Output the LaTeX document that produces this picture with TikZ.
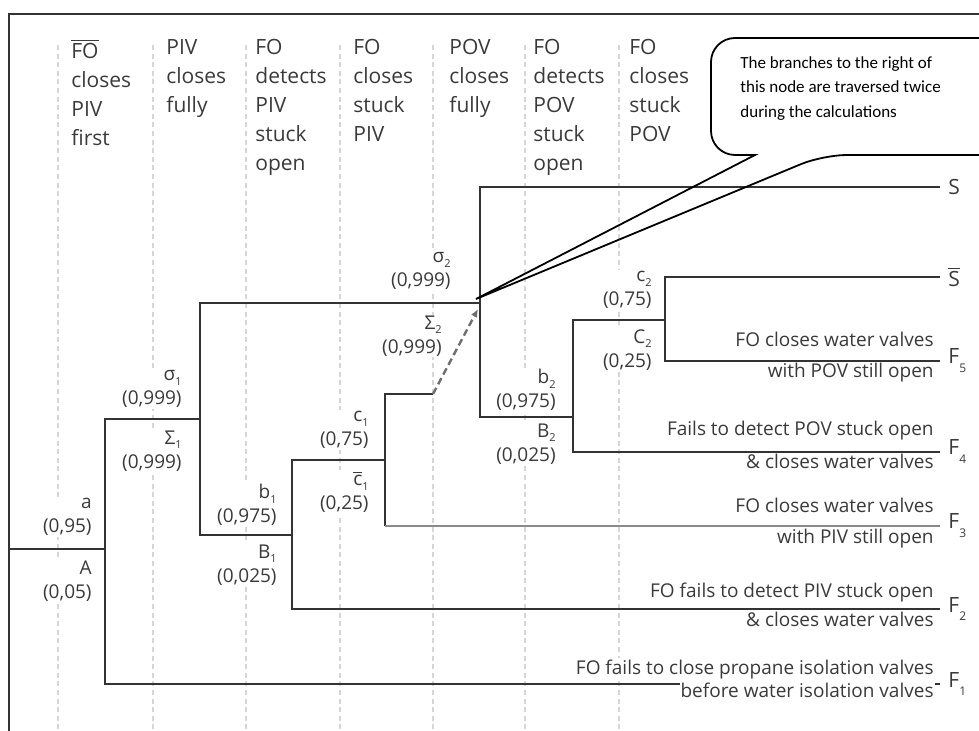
\documentclass[tikz,border=0pt]{standalone}
\usepackage{fontspec}
\setmainfont{Open Sans}
\newfontfamily\notefont{Carlito}
\usetikzlibrary{positioning}
\usetikzlibrary{arrows.meta}
\definecolor{et-line}{HTML}{333333}
\definecolor{et-grid}{HTML}{D6D6D6}
\definecolor{et-text}{HTML}{3A3A3A}
\definecolor{et-faint}{HTML}{8A8A8A}
\newcommand{\lsub}[1]{\raisebox{-0.45ex}{\fontsize{5.5}{6}\selectfont #1}}
\newcommand{\fsub}[1]{\raisebox{-0.8ex}{\fontsize{6}{6}\selectfont #1}}
\newcommand{\bartext}[1]{$\overline{\hbox{#1}}$}

\begin{document}
\begin{tikzpicture}[
    x=0.5pt, y=-0.5pt, % one unit = one pixel of the figure
    font=\fontsize{9.5}{12}\selectfont,
    text=et-text,
    >=Latex
  ]

  % Styles for the event tree
  \tikzset{
    branch/.style={draw=et-line, line width=1.1pt},
    faint/.style={draw=et-faint, line width=0.8pt},
    column/.style={draw=et-grid, line width=0.6pt, dash pattern=on 2.5pt off 1.8pt},
    head/.style={anchor=north west, inner sep=0pt, align=left, font=\fontsize{10.5}{14.5}\selectfont},
    prob/.style={fill=white, inner sep=0.5pt, align=right, anchor=east},
    probup/.style={prob, yshift=15pt},
    probdown/.style={prob, yshift=-15pt},
    outtop/.style={fill=white, inner sep=0.5pt, anchor=base east, xshift=-2.5pt, yshift=7pt},
    outbot/.style={fill=white, inner sep=0.5pt, anchor=base east, xshift=-2.5pt, yshift=-8.5pt},
    endlabel/.style={inner sep=0pt, font=\fontsize{10.5}{12}\selectfont},
    bubble/.style={draw=black, line width=0.9pt},
    dasharrow/.style={draw=et-faint!80!black, line width=1.2pt, dash pattern=on 3.5pt off 2pt, -{Latex[length=4pt,width=3.5pt]}}
  }

  \clip (0,0) rectangle (979,731);

  % Frame and column rulings
  \draw[et-line, line width=1.1pt] (9,731) -- (9,14) -- (979,14);
  \foreach \gx in {58,153,246,340,433,525,619}
    \draw[column] (\gx,45) -- (\gx,731);

  % Column headings
  \node[head] (h1) at (71,39) {\bartext{FO}\\closes\\PIV\\first};
  \node[head] (h2) at (166,39) {PIV\\closes\\fully};
  \node[head] (h3) at (255,39) {FO\\detects\\PIV\\stuck\\open};
  \node[head] (h4) at (353,39) {FO\\closes\\stuck\\PIV};
  \node[head] (h5) at (449,39) {POV\\closes\\fully};
  \node[head] (h6) at (533,39) {FO\\detects\\POV\\stuck\\open};
  \node[head] (h7) at (629,39) {FO\\closes\\stuck\\POV};

  % Junctions and branch ends
  \coordinate (root) at (9,549);
  \coordinate (ja) at (105,549);
  \coordinate (jsig1) at (200,419);
  \coordinate (jb1) at (292,535);
  \coordinate (jc1) at (385,460);
  \coordinate (c1end) at (433,394);
  \coordinate (js2) at (480,303);
  \coordinate (s2tip) at (476,299);
  \coordinate (s2arrow) at (478,309);
  \coordinate (jb2) at (573,417);
  \coordinate (jc2) at (665,320);
  \coordinate (eS) at (940,187);
  \coordinate (eSbar) at (940,277);
  \coordinate (eF5) at (940,361);
  \coordinate (eF4) at (940,452);
  \coordinate (eF3) at (940,526);
  \coordinate (eF2) at (940,609);
  \coordinate (eF1) at (940,684);

  % Branches
  \draw[branch] (root) -- (ja);
  \draw[branch] (jsig1) -| (ja) |- (eF1);
  \draw[branch] (js2) -| (jsig1) |- (jb1);
  \draw[branch] (jc1) -| (jb1) |- (eF2);
  \draw[branch] (c1end) -| (jc1) -- (jc1 |- eF3);
  \draw[faint] (jc1 |- eF3) -- (eF3);
  \draw[branch] (eS) -| (js2) |- (jb2);
  \draw[branch] (jc2) -| (jb2) |- (eF4);
  \draw[branch] (eSbar) -| (jc2) |- (eF5);
  \draw[dasharrow] (c1end) -- (s2arrow);

  % Branch probabilities
  \node[probup, xshift=-6pt, yshift=1pt] (pa) at (ja) {a\\(0,95)};
  \node[probdown, xshift=-6pt, yshift=-1pt] (pA) at (ja) {A\\(0,05)};
  \node[probup, xshift=-8.5pt] (psig1) at (jsig1) {σ\lsub{1}\\(0,999)};
  \node[probdown, xshift=-8.5pt, yshift=-1pt] (pSig1) at (jsig1) {Σ\lsub{1}\\(0,999)};
  \node[probup, xshift=-7pt] (pb1) at (jb1) {b\lsub{1}\\(0,975)};
  \node[probdown, xshift=-7pt] (pB1) at (jb1) {B\lsub{1}\\(0,025)};
  \node[probup, xshift=-7.5pt] (pc1) at (jc1) {c\lsub{1}\\(0,75)};
  \node[probdown, xshift=-7.5pt, yshift=-1pt] (pcb1) at (jc1) {\bartext{c}\lsub{1}\\(0,25)};
  \node[probup, xshift=-14pt, yshift=1pt] (psig2) at (js2) {σ\lsub{2}\\(0,999)};
  \node[probdown, xshift=-18.5pt, yshift=-1.5pt] (pSig2) at (js2) {Σ\lsub{2}\\(0,999)};
  \node[probup, xshift=-8pt, yshift=-1.5pt] (pb2) at (jb2) {b\lsub{2}\\(0,975)};
  \node[probdown, xshift=-8pt, yshift=1.5pt] (pB2) at (jb2) {B\lsub{2}\\(0,025)};
  \node[probup, xshift=-6pt] (pc2) at (jc2) {c\lsub{2}\\(0,75)};
  \node[probdown, xshift=-6pt] (pC2) at (jc2) {C\lsub{2}\\(0,25)};

  % Outcomes
  \node[endlabel, right=4pt of eS] (oS) {S};
  \node[endlabel, right=4pt of eSbar] (oSbar) {\bartext{S}};
  \node[endlabel, right=4pt of eF5] (oF5) {F\fsub{5}};
  \node[endlabel, right=4pt of eF4] (oF4) {F\fsub{4}};
  \node[endlabel, right=4pt of eF3] (oF3) {F\fsub{3}};
  \node[endlabel, right=4pt of eF2] (oF2) {F\fsub{2}};
  \node[endlabel, right=4pt of eF1] (oF1) {F\fsub{1}};

  \node[outtop] (d5a) at (eF5) {FO closes water valves};
  \node[outbot] (d5b) at (eF5) {with POV still open};
  \node[outtop, yshift=1pt] (d4a) at (eF4) {Fails to detect POV stuck open};
  \node[outbot] (d4b) at (eF4) {\& closes water valves};
  \node[outtop] (d3a) at (eF3) {FO closes water valves};
  \node[outbot] (d3b) at (eF3) {with PIV still open};
  \node[outtop, yshift=-1pt] (d2a) at (eF2) {FO fails to detect PIV stuck open};
  \node[outbot] (d2b) at (eF2) {\& closes water valves};
  \node[outtop, yshift=-2pt] (d1a) at (eF1) {FO fails to close propane isolation valves};
  \node[outbot, yshift=2pt] (d1b) at (eF1) {before water isolation valves};

  % Callout on the sigma_2 node
  \draw[bubble] (s2tip) -- (755,155) [rounded corners=12pt] -- (711,155) -- (711,38)
    -- (1010,38) -- (1010,155) -- (823,155) [sharp corners] -- cycle;
  \node[anchor=north west, inner sep=0pt, align=left, text=black,
        font=\notefont\fontsize{8.5}{12.25}\selectfont] (note) at (740,56)
    {The branches to the right of\\this node are traversed twice\\during the calculations};

\end{tikzpicture}
\end{document}
